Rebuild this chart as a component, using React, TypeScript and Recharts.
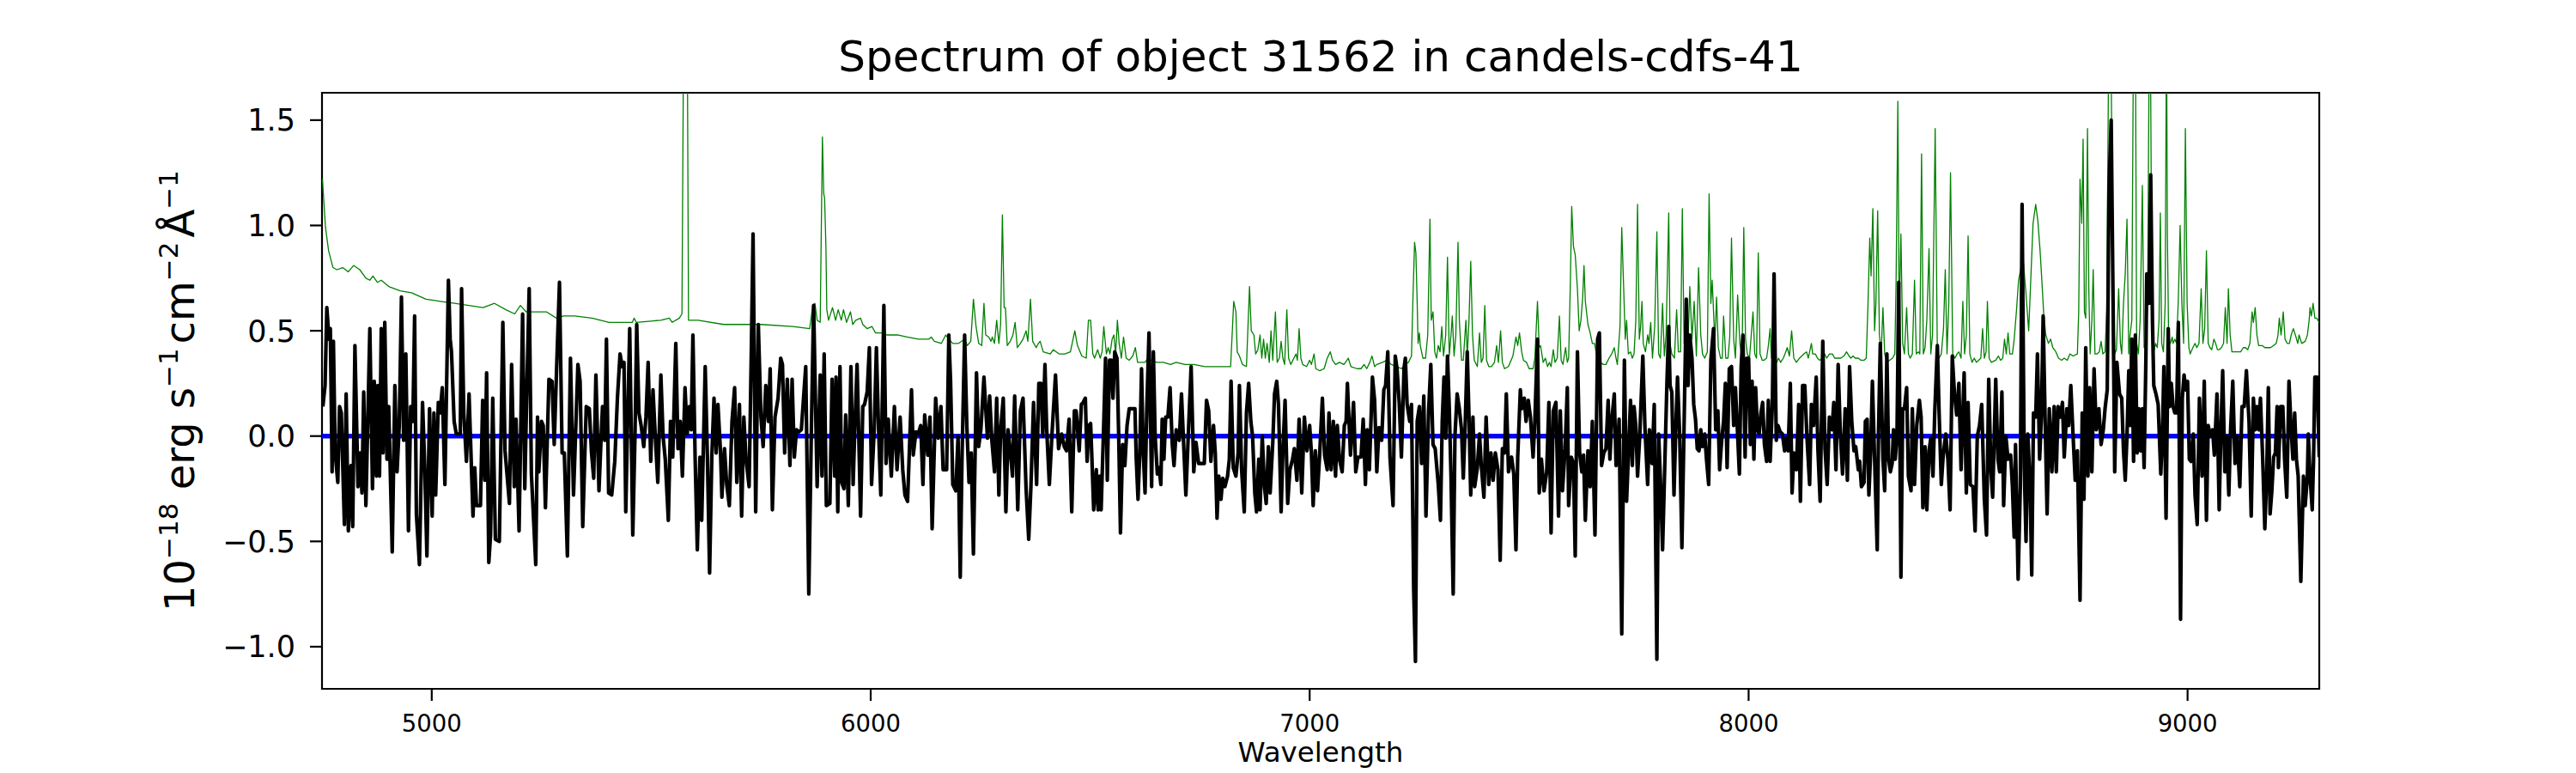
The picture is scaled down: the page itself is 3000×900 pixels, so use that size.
import { LineChart, Line, XAxis, YAxis, ReferenceArea, Label } from "recharts";

// [wavelength (Å), flux]
const sciencePairs: number[][] = [
  [4752, 0.14], [4757, 0.24], [4761, 0.61], [4766, 0.46], [4769, 0.51], [4773, -0.17], [4776, 0.45], [4780, -0.08],
  [4786, -0.22], [4790, 0.14], [4794, 0.11], [4801, -0.42], [4805, 0.2], [4810, -0.45], [4816, -0.14], [4820, -0.43],
  [4825, 0.43], [4832, -0.24], [4837, -0.08], [4841, -0.27], [4845, 0.21], [4850, -0.33], [4859, 0.51], [4865, -0.25],
  [4869, 0.26], [4874, -0.19], [4877, 0.24], [4881, -0.19], [4885, 0.51], [4889, -0.08], [4893, 0.54], [4898, -0.11],
  [4902, 0.14], [4910, -0.55], [4916, 0.24], [4921, -0.17], [4926, 0.05], [4931, 0.66], [4936, -0.02], [4941, 0.39],
  [4947, -0.45], [4952, 0.14], [4957, 0.07], [4961, 0.57], [4965, -0.37], [4972, -0.61], [4979, 0.16], [4984, -0.14],
  [4989, -0.57], [4995, 0.13], [5001, -0.38], [5005, 0.11], [5009, -0.28], [5015, 0.16], [5019, 0.11], [5024, 0.23],
  [5030, -0.23], [5038, 0.74], [5042, 0.46], [5045, 0.4], [5051, 0.07], [5056, 0.01], [5065, 0.01], [5068, 0.7],
  [5073, 0.11], [5079, -0.12], [5085, 0.2], [5094, -0.38], [5098, -0.15], [5102, -0.33], [5111, -0.33], [5116, 0.17],
  [5121, -0.21], [5125, 0.3], [5130, -0.6], [5134, -0.47], [5139, 0.18], [5145, -0.49], [5154, -0.5], [5162, 0.54],
  [5167, -0.07], [5177, -0.32], [5182, 0.34], [5188, -0.24], [5192, 0.08], [5199, -0.45], [5207, 0.58], [5212, -0.25],
  [5216, 0.16], [5222, 0.7], [5227, -0.18], [5237, -0.61], [5241, 0.09], [5244, -0.17], [5250, 0.07], [5254, 0.05],
  [5259, -0.34], [5267, 0.27], [5274, 0.26], [5279, -0.04], [5284, 0.29], [5291, 0.73], [5297, -0.08], [5302, -0.08],
  [5309, -0.57], [5316, 0.37], [5323, -0.28],
  [5333, 0.34], [5338, 0.26], [5344, -0.43], [5352, 0.14], [5359, 0.13], [5364, -0.08], [5369, -0.2], [5374, 0.29],
  [5381, -0.26], [5386, 0.0], [5389, 0.14], [5394, -0.02], [5398, 0.46], [5403, -0.27], [5410, -0.28], [5417, -0.12],
  [5423, 0.18], [5429, 0.39], [5434, 0.33], [5438, 0.35], [5442, -0.36], [5446, 0.05], [5451, 0.51], [5458, -0.47],
  [5463, 0.0], [5467, 0.53], [5472, 0.11], [5477, 0.05], [5483, -0.05], [5488, 0.09], [5493, 0.35], [5499, -0.12],
  [5504, 0.22], [5509, 0.01], [5515, -0.22], [5522, 0.29], [5527, 0.0], [5532, -0.11], [5539, -0.4], [5544, 0.07],
  [5549, -0.1], [5556, 0.44], [5561, -0.06], [5566, 0.07], [5571, -0.19], [5577, 0.23], [5582, 0.01], [5587, 0.14],
  [5591, 0.03], [5595, 0.48], [5600, -0.1], [5605, -0.54], [5611, -0.1], [5615, -0.4], [5623, 0.33], [5628, -0.1],
  [5633, -0.65], [5638, -0.1], [5643, 0.18], [5648, -0.08], [5652, 0.15], [5658, -0.08], [5661, -0.29], [5667, -0.06],
  [5672, -0.23], [5678, -0.33], [5684, 0.07], [5690, 0.23], [5695, -0.22], [5701, 0.15], [5706, -0.38], [5711, 0.09],
  [5716, -0.11], [5723, -0.24], [5728, 0.4], [5732, 0.96], [5738, -0.36], [5744, 0.53], [5750, 0.09], [5755, -0.05],
  [5761, 0.24], [5767, 0.07], [5771, 0.32], [5776, -0.35], [5782, 0.09], [5789, 0.18], [5795, 0.37], [5799, 0.34],
  [5804, -0.08], [5810, 0.27], [5816, -0.14], [5821, 0.27], [5826, -0.1], [5831, 0.03], [5836, 0.02], [5842, 0.03],
  [5847, 0.18], [5852, 0.33], [5859, -0.75], [5865, 0.05], [5870, 0.62], [5878, -0.24], [5885, 0.29], [5889, -0.19],
  [5894, 0.39], [5899, -0.33], [5907, -0.32], [5912, 0.27],
  [5918, -0.19], [5921, 0.28], [5925, -0.36], [5930, 0.33], [5934, -0.22], [5939, -0.25], [5943, 0.1], [5949, -0.33],
  [5955, 0.33], [5960, -0.23], [5964, 0.05], [5969, 0.34], [5977, -0.38], [5982, 0.14], [5986, 0.15], [5992, 0.21],
  [5997, 0.42], [6002, -0.23], [6008, 0.03], [6013, 0.42], [6018, 0.03], [6023, -0.28], [6030, 0.62], [6035, -0.13],
  [6040, 0.08], [6047, -0.19], [6054, 0.14], [6060, -0.16], [6067, 0.09], [6073, -0.16], [6078, -0.28], [6084, -0.31],
  [6093, 0.22], [6097, -0.09], [6103, 0.02], [6108, 0.01], [6114, 0.05], [6119, -0.23], [6123, 0.1], [6130, -0.09],
  [6135, 0.09], [6140, -0.44], [6148, 0.18], [6154, -0.01], [6160, 0.14], [6165, -0.16], [6173, -0.16], [6178, 0.48],
  [6182, 0.26], [6187, -0.23], [6194, -0.26], [6199, 0.0], [6204, -0.67], [6208, -0.11], [6214, 0.48], [6219, 0.05],
  [6224, -0.22], [6229, -0.08], [6234, -0.56], [6241, 0.3], [6246, -0.05], [6251, 0.03], [6258, 0.28], [6266, -0.01],
  [6271, 0.19], [6276, -0.02], [6282, -0.17], [6287, 0.18], [6292, -0.28], [6296, 0.03], [6302, 0.18], [6308, -0.36],
  [6313, 0.03], [6318, -0.07], [6323, -0.19], [6328, 0.19], [6335, -0.35], [6341, 0.12], [6347, 0.18], [6354, -0.25],
  [6360, -0.49], [6365, -0.24], [6371, 0.16], [6378, -0.23], [6383, 0.25], [6388, 0.25], [6392, 0.0], [6397, 0.34],
  [6401, 0.03], [6407, -0.23], [6413, 0.01], [6421, 0.29], [6428, -0.06], [6435, 0.01], [6441, -0.05], [6446, -0.07],
  [6452, 0.08], [6458, -0.36], [6464, 0.12], [6468, 0.12], [6475, -0.07], [6480, 0.15], [6484, 0.16], [6489, 0.18],
  [6493, -0.12], [6497, 0.05],
  [6501, 0.06], [6504, -0.11], [6508, -0.35], [6514, -0.16], [6518, -0.35], [6522, -0.19], [6525, -0.35], [6531, 0.07],
  [6535, 0.37], [6539, -0.21], [6544, 0.36], [6548, 0.36], [6552, 0.18], [6556, 0.4], [6561, 0.37], [6565, 0.0],
  [6569, -0.46], [6574, -0.04], [6579, -0.14], [6584, 0.05], [6589, 0.13], [6596, 0.13], [6602, 0.13], [6605, -0.11],
  [6609, -0.3], [6613, -0.08], [6617, 0.32], [6621, -0.08], [6625, -0.27], [6629, 0.13], [6634, 0.49], [6640, -0.24],
  [6644, 0.4], [6648, 0.0], [6653, -0.18], [6657, -0.15], [6661, -0.23], [6664, 0.08], [6668, -0.11], [6672, 0.09],
  [6677, 0.09], [6682, 0.23], [6687, -0.04], [6691, -0.14], [6696, 0.03], [6703, -0.02], [6708, 0.2], [6713, -0.04],
  [6718, -0.28], [6724, 0.03], [6730, 0.33], [6736, -0.17], [6741, -0.03], [6747, -0.13], [6755, -0.13], [6760, -0.13],
  [6765, 0.17], [6770, 0.12], [6775, -0.12], [6781, 0.05], [6785, -0.08], [6789, -0.39], [6793, -0.19], [6798, -0.3],
  [6802, -0.2], [6807, -0.24], [6813, -0.19], [6817, -0.11], [6821, 0.26], [6826, -0.15], [6832, -0.19], [6837, -0.08],
  [6840, 0.24], [6845, -0.16], [6851, -0.36], [6856, 0.11], [6861, 0.25], [6866, 0.07], [6870, 0.0], [6875, -0.27],
  [6879, -0.36], [6884, -0.11], [6887, -0.35], [6892, 0.0], [6897, -0.24], [6901, -0.32], [6906, -0.05], [6910, -0.27],
  [6916, -0.03], [6920, 0.2], [6925, 0.26], [6929, 0.15], [6935, -0.36], [6939, -0.07], [6944, 0.17], [6950, -0.32],
  [6955, -0.16], [6961, -0.11], [6965, -0.06], [6971, -0.21], [6976, 0.08], [6982, -0.27], [6988, 0.09], [6994, -0.07],
  [7000, 0.05], [7004, -0.08], [7008, -0.33], [7013, -0.07], [7018, -0.26], [7023, -0.08], [7029, 0.18], [7034, -0.09],
  [7040, -0.16], [7044, 0.11], [7049, -0.16], [7054, 0.07], [7059, -0.19], [7063, 0.05], [7068, -0.11], [7074, -0.17],
  [7079, 0.05], [7083, 0.07], [7086, 0.25],
  [7093, -0.09], [7100, 0.16], [7105, -0.17], [7110, -0.1], [7117, -0.1], [7122, 0.08], [7127, -0.23], [7131, 0.03],
  [7136, -0.16], [7143, 0.28], [7148, 0.17], [7153, -0.17], [7158, 0.04], [7164, -0.02], [7169, 0.22], [7173, 0.24],
  [7178, 0.4], [7183, -0.1], [7190, -0.33], [7195, 0.38], [7199, 0.32], [7204, 0.16], [7209, -0.1], [7215, 0.32],
  [7218, 0.37], [7222, 0.15], [7228, 0.07], [7232, 0.15], [7237, -0.73], [7241, -1.07], [7245, 0.07], [7250, 0.14],
  [7255, -0.13], [7260, 0.19], [7265, -0.38], [7271, 0.12], [7276, 0.34], [7281, -0.04], [7286, -0.06], [7293, -0.23],
  [7298, -0.4], [7302, 0.07], [7306, 0.28], [7310, -0.01], [7314, 0.38], [7318, 0.14], [7322, -0.19], [7327, -0.75],
  [7331, 0.0], [7336, 0.2], [7341, 0.13], [7346, 0.03], [7350, -0.2], [7354, 0.03], [7359, 0.4], [7363, 0.09],
  [7367, -0.28], [7372, 0.09], [7376, -0.24], [7382, -0.15], [7387, 0.01], [7391, -0.14], [7397, -0.29], [7402, 0.09],
  [7408, -0.23], [7413, -0.08], [7418, -0.21], [7423, -0.08], [7429, -0.16], [7434, -0.59], [7439, -0.06], [7444, -0.08],
  [7448, 0.2], [7453, -0.17], [7460, -0.1], [7465, -0.18], [7470, -0.54], [7474, -0.1], [7480, 0.22], [7483, 0.13],
  [7489, 0.18], [7493, 0.07], [7498, 0.17], [7503, 0.09], [7509, -0.1], [7513, 0.07], [7519, 0.46], [7523, -0.27],
  [7528, -0.11], [7534, -0.26], [7540, -0.17], [7545, 0.16], [7550, -0.46], [7555, 0.12], [7561, 0.16], [7567, -0.38],
  [7571, 0.12], [7576, -0.26], [7582, -0.06], [7587, 0.23], [7590, -0.33], [7596, -0.1], [7601, -0.13], [7605, -0.57],
  [7610, 0.4], [7615, -0.08], [7620, -0.17], [7624, -0.09], [7628, -0.4], [7634, -0.07], [7639, -0.24], [7644, 0.07],
  [7650, -0.47], [7656, 0.46], [7660, 0.49], [7665, -0.14], [7670, -0.08],
  [7675, -0.06], [7680, 0.17], [7684, -0.11], [7688, 0.07], [7694, 0.2], [7698, -0.14], [7701, -0.08], [7705, 0.08],
  [7711, -0.94], [7717, 0.36], [7722, -0.31], [7726, -0.1], [7731, 0.17], [7735, -0.14], [7739, 0.14], [7743, 0.05],
  [7747, -0.19], [7752, 0.0], [7759, 0.38], [7764, 0.03], [7770, -0.23], [7774, 0.03], [7780, -0.13], [7785, 0.15],
  [7791, -1.06], [7795, 0.01], [7799, -0.2], [7804, -0.54], [7810, -0.06], [7814, 0.26], [7818, 0.52], [7821, 0.24],
  [7825, 0.21], [7830, -0.28], [7834, 0.03], [7838, 0.28], [7843, 0.0], [7848, -0.53], [7853, 0.05], [7858, 0.65],
  [7862, 0.24], [7866, 0.48], [7871, 0.37], [7875, 0.15], [7879, 0.08], [7883, -0.06], [7887, -0.07], [7891, 0.03],
  [7895, -0.05], [7900, 0.01], [7904, -0.11], [7909, -0.23], [7914, 0.36], [7920, 0.51], [7925, 0.03], [7930, 0.12],
  [7934, -0.16], [7939, -0.01], [7943, 0.07], [7947, 0.25], [7951, -0.15], [7956, 0.32], [7961, 0.33], [7966, 0.05],
  [7970, 0.23], [7974, 0.05], [7979, -0.18], [7983, 0.33], [7987, 0.48], [7992, -0.1], [7996, 0.37], [8000, 0.37],
  [8004, -0.04], [8008, 0.26], [8012, -0.11], [8016, 0.23], [8020, 0.03], [8024, 0.01], [8028, 0.11], [8032, 0.16],
  [8036, -0.04], [8041, -0.12], [8045, 0.17], [8049, -0.12], [8054, 0.14], [8058, 0.77], [8063, -0.02], [8067, 0.05],
  [8072, 0.02], [8077, 0.01], [8082, -0.07], [8086, -0.01], [8090, -0.07], [8095, 0.25], [8099, -0.27], [8103, -0.08],
  [8109, -0.16], [8114, 0.15], [8118, -0.31], [8123, 0.24], [8128, 0.24], [8133, -0.01], [8139, -0.23], [8143, 0.15],
  [8148, 0.05], [8154, 0.28], [8158, -0.07], [8163, -0.31], [8169, 0.45], [8174, -0.06], [8179, -0.23], [8184, 0.09],
  [8190, 0.03], [8194, 0.16], [8199, -0.16], [8204, 0.34], [8209, 0.01], [8214, -0.18], [8220, 0.13], [8225, -0.21],
  [8230, 0.33], [8235, 0.07], [8240, -0.07], [8244, -0.05], [8250, -0.16], [8253, -0.12], [8257, -0.24], [8263, -0.22],
  [8266, 0.07], [8270, 0.08], [8274, -0.28], [8278, -0.08], [8282, 0.26], [8287, -0.11], [8293, -0.54], [8296, 0.03],
  [8300, 0.44], [8306, -0.11], [8310, -0.26], [8315, 0.39], [8319, -0.11], [8323, -0.17], [8327, -0.13], [8330, 0.03],
  [8334, -0.11], [8338, 0.0], [8342, 0.73], [8347, -0.67], [8351, 0.13], [8355, 0.13], [8360, 0.23], [8364, -0.19],
  [8370, -0.26], [8373, 0.13], [8378, -0.23], [8383, 0.05], [8389, 0.17], [8393, 0.09], [8397, -0.34], [8402, -0.05],
  [8406, -0.35], [8411, -0.07], [8415, -0.01], [8420, -0.19], [8424, 0.11], [8430, 0.43], [8434, 0.11], [8439, -0.23],
  [8443, -0.1], [8449, 0.01], [8454, -0.11], [8459, -0.35], [8464, 0.38], [8469, 0.2], [8474, 0.1], [8479, 0.25],
  [8484, -0.16], [8491, 0.3], [8496, -0.27], [8500, 0.16], [8505, -0.23], [8511, -0.24], [8516, -0.45], [8521, 0.0],
  [8526, 0.05], [8531, 0.15], [8537, -0.3], [8542, -0.47], [8547, 0.27], [8552, -0.16], [8556, -0.29], [8563, 0.27],
  [8568, -0.11], [8572, -0.17], [8577, 0.21], [8581, -0.33], [8586, 0.0], [8591, -0.11], [8597, -0.09], [8601, -0.24],
  [8605, -0.48], [8608, -0.04], [8614, -0.68], [8619, -0.24], [8623, 1.1], [8628, -0.15], [8632, -0.5], [8636, 0.01],
  [8641, -0.22], [8645, -0.66], [8649, 0.11], [8654, 0.09], [8658, 0.39], [8663, -0.11], [8667, 0.09], [8671, 0.57],
  [8675, 0.13], [8680, -0.37], [8685, 0.13], [8691, -0.17], [8696, 0.14], [8701, -0.17], [8705, 0.14], [8710, 0.09],
  [8715, 0.16], [8719, -0.1], [8725, 0.13], [8729, 0.05], [8734, 0.24], [8739, 0.01], [8744, -0.21], [8749, -0.07],
  [8755, -0.78], [8760, 0.11], [8764, -0.3], [8768, 0.42], [8773, -0.19], [8777, 0.23], [8782, -0.17], [8787, 0.32],
  [8792, 0.03], [8798, 0.13], [8803, -0.04], [8808, 0.03], [8812, 0.13], [8817, 0.22], [8821, 1.18], [8826, 1.5],
  [8830, 0.7], [8834, -0.17], [8839, 0.35], [8845, 0.2], [8850, 0.18],
  [8854, -0.07], [8858, -0.21], [8862, 0.0], [8866, 0.31], [8869, 0.05], [8873, 0.46], [8877, -0.12], [8881, 0.48],
  [8885, -0.08], [8889, 0.13], [8893, -0.07], [8897, 0.13], [8901, -0.15], [8905, 0.36], [8907, 0.77], [8912, 0.63],
  [8916, 1.24], [8920, 0.55], [8923, 0.24], [8928, 0.2], [8933, 0.15], [8939, -0.18], [8943, 0.03], [8946, 0.33],
  [8951, -0.39], [8956, 0.51], [8959, 0.14], [8963, 0.25], [8967, 0.14], [8971, 0.11], [8975, 0.11], [8979, 0.54],
  [8984, -0.87], [8988, 0.18], [8992, 0.29], [8996, 0.22], [9000, 0.26], [9004, -0.11], [9008, -0.12], [9013, 0.01],
  [9017, -0.28], [9022, -0.42], [9027, 0.18], [9033, -0.19], [9038, 0.26], [9043, -0.4], [9047, 0.05], [9052, 0.0],
  [9057, 0.03], [9061, -0.09], [9067, 0.2], [9072, -0.35], [9076, 0.03], [9080, 0.31], [9085, -0.17], [9089, 0.0],
  [9094, -0.28], [9098, 0.03], [9103, 0.26], [9108, -0.13], [9113, 0.0], [9119, -0.24], [9124, 0.14], [9129, 0.14],
  [9134, 0.31], [9140, 0.07], [9145, -0.38], [9150, 0.18], [9154, 0.03], [9158, 0.14], [9162, 0.03], [9166, 0.18],
  [9171, -0.1], [9176, -0.44], [9180, -0.21], [9184, 0.23], [9188, -0.37], [9192, -0.26], [9196, -0.1], [9200, -0.08],
  [9204, 0.14], [9207, -0.15], [9212, 0.14], [9217, 0.14], [9221, -0.11], [9226, -0.29], [9231, 0.26], [9236, 0.03],
  [9240, -0.11], [9244, 0.11], [9248, -0.11], [9252, -0.19], [9258, -0.69], [9264, -0.19], [9268, -0.33], [9273, -0.19],
  [9275, 0.01], [9279, -0.19], [9284, -0.35], [9287, -0.11], [9290, 0.28], [9295, 0.28], [9300, -0.1],
];

// noise / sky spectrum (green)
const skyPairs: number[][] = [
  [4751, 1.22], [4758, 0.99], [4765, 0.88], [4775, 0.8], [4784, 0.79], [4797, 0.8], [4810, 0.78], [4822, 0.81],
  [4836, 0.79], [4850, 0.75], [4859, 0.74], [4866, 0.76], [4876, 0.73], [4885, 0.74], [4902, 0.71], [4928, 0.69],
  [4954, 0.68], [4987, 0.65], [5019, 0.64], [5052, 0.63], [5084, 0.62], [5117, 0.61], [5143, 0.63], [5169, 0.6],
  [5189, 0.58], [5202, 0.62], [5215, 0.59], [5241, 0.59], [5261, 0.59], [5284, 0.56], [5300, 0.57],
  [5326, 0.57], [5365, 0.56], [5404, 0.54], [5457, 0.54], [5461, 0.56], [5466, 0.54], [5522, 0.55], [5541, 0.56],
  [5548, 0.54], [5564, 0.56], [5570, 0.58], [5574, 2.0], [5582, 2.0], [5585, 0.55], [5607, 0.55], [5665, 0.53],
  [5750, 0.53], [5822, 0.52], [5861, 0.51], [5868, 0.62], [5873, 0.63], [5878, 0.55], [5885, 0.54], [5887, 0.9],
  [5890, 1.42], [5893, 1.15], [5895, 1.13], [5898, 0.9], [5900, 0.6], [5904, 0.55],
  [5913, 0.61], [5920, 0.55], [5926, 0.6], [5933, 0.55], [5938, 0.6], [5945, 0.54], [5954, 0.59], [5959, 0.53],
  [5966, 0.55], [5977, 0.56], [5982, 0.53], [5992, 0.51], [6003, 0.52], [6011, 0.49], [6028, 0.49], [6037, 0.48],
  [6063, 0.48], [6083, 0.47], [6109, 0.46], [6132, 0.46], [6138, 0.47], [6145, 0.45], [6161, 0.44], [6171, 0.48],
  [6178, 0.46], [6187, 0.44], [6200, 0.44], [6214, 0.46], [6220, 0.43], [6228, 0.45], [6234, 0.65], [6240, 0.52],
  [6246, 0.44], [6253, 0.43], [6258, 0.63], [6262, 0.48], [6269, 0.47], [6274, 0.45], [6277, 0.47], [6282, 0.44],
  [6287, 0.55], [6292, 0.44], [6296, 0.53], [6300, 1.05], [6304, 0.61], [6307, 0.61], [6311, 0.43], [6318, 0.45],
  [6324, 0.48], [6329, 0.54], [6334, 0.42], [6341, 0.44], [6347, 0.46], [6354, 0.5], [6358, 0.45], [6364, 0.65],
  [6369, 0.45], [6377, 0.42], [6382, 0.44], [6386, 0.45], [6393, 0.4], [6409, 0.39], [6416, 0.41], [6429, 0.39],
  [6442, 0.39], [6455, 0.4], [6465, 0.5], [6471, 0.43], [6481, 0.38], [6491, 0.37], [6496, 0.55],
  [6501, 0.55], [6506, 0.39], [6510, 0.37], [6517, 0.41], [6523, 0.37], [6527, 0.4], [6531, 0.52], [6537, 0.39],
  [6541, 0.42], [6545, 0.39], [6550, 0.46], [6554, 0.48], [6558, 0.39], [6562, 0.55], [6566, 0.44], [6571, 0.37],
  [6576, 0.47], [6582, 0.37], [6589, 0.36], [6597, 0.38], [6603, 0.42], [6608, 0.35], [6625, 0.35], [6631, 0.37],
  [6638, 0.36], [6651, 0.35], [6667, 0.35], [6683, 0.34], [6696, 0.35], [6716, 0.34], [6736, 0.34], [6762, 0.33],
  [6788, 0.33], [6820, 0.33], [6827, 0.64], [6832, 0.59], [6835, 0.4], [6840, 0.38], [6847, 0.34], [6856, 0.33],
  [6863, 0.71], [6867, 0.5], [6873, 0.48], [6877, 0.39], [6882, 0.41], [6887, 0.48], [6891, 0.37], [6895, 0.46],
  [6899, 0.37], [6903, 0.44], [6908, 0.35], [6912, 0.5], [6916, 0.36], [6922, 0.59], [6926, 0.35], [6931, 0.37],
  [6935, 0.45], [6939, 0.37], [6943, 0.34], [6948, 0.6], [6952, 0.37], [6957, 0.34], [6964, 0.37], [6969, 0.39],
  [6972, 0.36], [6976, 0.51], [6980, 0.37], [6984, 0.34], [6993, 0.33], [7000, 0.36], [7004, 0.34], [7010, 0.39],
  [7014, 0.32], [7023, 0.31], [7033, 0.32], [7040, 0.37], [7047, 0.4], [7052, 0.36], [7059, 0.34], [7068, 0.35],
  [7078, 0.34], [7085, 0.36],
  [7088, 0.37], [7094, 0.33], [7108, 0.32], [7117, 0.32], [7124, 0.34], [7130, 0.32], [7137, 0.35], [7142, 0.38],
  [7148, 0.33], [7153, 0.34], [7166, 0.35], [7176, 0.36], [7186, 0.34], [7199, 0.33], [7209, 0.32], [7218, 0.34],
  [7225, 0.35], [7232, 0.38], [7235, 0.63], [7239, 0.92], [7242, 0.87], [7245, 0.63], [7247, 0.44], [7250, 0.49],
  [7252, 0.43], [7258, 0.37], [7264, 0.37], [7269, 0.48], [7274, 1.03], [7277, 0.55], [7281, 0.59], [7285, 0.4],
  [7289, 0.37], [7293, 0.43], [7297, 0.4], [7301, 0.52], [7305, 0.38], [7310, 0.48], [7314, 0.85], [7318, 0.38],
  [7322, 0.48], [7325, 0.57], [7329, 0.38], [7333, 0.48], [7338, 0.92], [7341, 0.55], [7346, 0.36], [7350, 0.36],
  [7356, 0.55], [7359, 0.38], [7363, 0.55], [7367, 0.83], [7371, 0.48], [7375, 0.36], [7382, 0.33], [7387, 0.49],
  [7391, 0.35], [7395, 0.37], [7399, 0.62], [7403, 0.36], [7408, 0.33], [7414, 0.33], [7421, 0.35], [7426, 0.43],
  [7430, 0.35], [7435, 0.5], [7439, 0.35], [7444, 0.32], [7453, 0.33], [7463, 0.38], [7470, 0.47], [7474, 0.43],
  [7478, 0.49], [7483, 0.4], [7487, 0.36], [7494, 0.35], [7500, 0.32], [7509, 0.32], [7513, 0.37], [7519, 0.64],
  [7523, 0.42], [7526, 0.43], [7532, 0.35], [7537, 0.37], [7542, 0.33], [7546, 0.35], [7550, 0.33], [7555, 0.41],
  [7559, 0.35], [7564, 0.37], [7569, 0.57], [7573, 0.36], [7577, 0.34], [7583, 0.42], [7587, 0.35], [7590, 0.37],
  [7594, 0.74], [7597, 1.09], [7601, 0.9], [7605, 0.86], [7610, 0.7], [7614, 0.5], [7618, 0.55], [7622, 0.66],
  [7625, 0.81], [7628, 0.64], [7634, 0.53], [7639, 0.49], [7644, 0.44], [7649, 0.44], [7654, 0.38], [7662, 0.35],
  [7669, 0.34],
  [7675, 0.34], [7682, 0.37], [7688, 0.39], [7694, 0.42], [7697, 0.38], [7701, 0.34], [7707, 0.52], [7711, 0.99],
  [7716, 0.66], [7719, 0.46], [7722, 0.55], [7726, 0.39], [7731, 0.4], [7735, 0.37], [7739, 0.39], [7743, 0.55],
  [7747, 1.1], [7751, 0.46], [7754, 0.52], [7757, 0.64], [7760, 0.44], [7765, 0.4], [7770, 0.48], [7773, 0.44],
  [7777, 0.54], [7781, 0.37], [7786, 0.52], [7791, 0.97], [7795, 0.39], [7799, 0.37], [7804, 0.63], [7808, 0.38],
  [7812, 0.48], [7818, 1.06], [7821, 0.44], [7825, 0.39], [7831, 0.37], [7836, 0.6], [7840, 0.4], [7845, 0.4],
  [7849, 1.08], [7853, 0.44], [7857, 0.61], [7862, 0.44], [7866, 0.71], [7871, 0.46], [7876, 0.64], [7881, 0.38],
  [7886, 0.8], [7891, 0.48], [7895, 0.39], [7900, 0.37], [7906, 0.4], [7910, 1.15], [7914, 0.63], [7917, 0.74],
  [7921, 0.55], [7923, 0.44], [7927, 0.66], [7931, 0.42], [7936, 0.37], [7940, 0.37], [7943, 0.57], [7948, 0.37],
  [7953, 0.37], [7957, 0.47], [7961, 0.94], [7966, 0.46], [7970, 0.37], [7975, 0.67], [7980, 0.44], [7985, 0.37],
  [7989, 0.99], [7993, 0.46], [7997, 0.39], [8002, 0.37], [8006, 0.48], [8010, 0.59], [8014, 0.39], [8018, 0.37],
  [8022, 0.87], [8026, 0.39], [8031, 0.36], [8035, 0.36], [8041, 0.37], [8045, 0.43], [8049, 0.51], [8052, 0.37],
  [8057, 0.37], [8064, 0.35], [8068, 0.37], [8073, 0.35], [8079, 0.37], [8083, 0.39], [8088, 0.42], [8093, 0.38],
  [8098, 0.5], [8103, 0.37], [8109, 0.35], [8116, 0.37], [8126, 0.39], [8132, 0.4], [8136, 0.37], [8143, 0.44],
  [8146, 0.39], [8152, 0.39], [8157, 0.37], [8162, 0.36], [8168, 0.37], [8173, 0.39], [8178, 0.37], [8184, 0.39],
  [8191, 0.39], [8196, 0.37], [8203, 0.37], [8210, 0.37], [8217, 0.38], [8223, 0.4], [8229, 0.38], [8233, 0.37],
  [8238, 0.38], [8243, 0.37], [8250, 0.37], [8256, 0.36],
  [8263, 0.36], [8268, 0.37], [8272, 0.63], [8276, 0.94], [8279, 0.76], [8283, 1.08], [8287, 0.5], [8290, 0.63],
  [8294, 1.07], [8298, 0.48], [8302, 0.39], [8306, 0.61], [8310, 0.39], [8315, 0.35], [8321, 0.36], [8328, 0.37],
  [8333, 0.39], [8336, 0.74], [8340, 1.59], [8343, 0.55], [8347, 0.96], [8351, 0.44], [8355, 0.39], [8360, 0.61],
  [8364, 0.39], [8368, 0.37], [8373, 0.39], [8378, 0.74], [8382, 0.39], [8387, 0.4], [8390, 0.39], [8394, 1.34],
  [8398, 0.39], [8402, 0.42], [8406, 0.55], [8411, 0.89], [8415, 0.39], [8419, 0.48], [8425, 1.46], [8430, 0.39],
  [8434, 0.37], [8439, 0.39], [8444, 0.51], [8448, 0.79], [8452, 0.39], [8456, 0.63], [8460, 1.25], [8465, 0.39],
  [8470, 0.37], [8475, 0.39], [8479, 0.4], [8484, 0.37], [8488, 0.64], [8492, 0.39], [8496, 0.48], [8500, 0.95],
  [8504, 0.39], [8509, 0.35], [8514, 0.37], [8519, 0.35], [8524, 0.36], [8529, 0.37], [8533, 0.51], [8537, 0.37],
  [8541, 0.4], [8544, 0.64], [8548, 0.37], [8553, 0.35], [8563, 0.36], [8569, 0.38], [8574, 0.36], [8579, 0.37],
  [8583, 0.46], [8587, 0.39], [8591, 0.49], [8595, 0.39], [8601, 0.39], [8605, 0.46], [8610, 0.59], [8615, 0.74],
  [8625, 0.85], [8631, 0.7], [8638, 0.5], [8642, 0.7], [8648, 1.01], [8654, 1.1], [8659, 1.02], [8664, 0.88],
  [8668, 0.74], [8672, 0.59], [8677, 0.48], [8683, 0.44], [8688, 0.46], [8693, 0.42], [8700, 0.4], [8706, 0.37],
  [8713, 0.36], [8719, 0.37], [8726, 0.36], [8732, 0.39], [8739, 0.38], [8749, 0.39], [8752, 0.59], [8755, 1.22],
  [8759, 1.01], [8762, 1.41], [8765, 0.59], [8768, 0.56], [8772, 1.46], [8775, 0.7], [8778, 0.39], [8782, 0.55],
  [8785, 0.79], [8789, 0.39], [8794, 0.39], [8799, 0.4], [8803, 0.45], [8807, 0.39], [8812, 0.4], [8816, 0.6],
  [8819, 1.5], [8821, 2.0], [8825, 2.0], [8829, 0.95], [8834, 0.39], [8838, 0.41], [8843, 0.7], [8847, 0.44],
  [8850, 0.39],
  [8854, 0.63], [8858, 0.77], [8862, 1.03], [8866, 0.39], [8869, 0.48], [8873, 0.55], [8877, 2.0], [8881, 2.0],
  [8884, 0.44], [8888, 0.39], [8892, 0.55], [8897, 1.19], [8901, 0.42], [8905, 0.44], [8909, 0.64], [8913, 2.0],
  [8915, 2.0], [8919, 0.55], [8923, 0.4], [8927, 0.44], [8931, 0.42], [8935, 0.55], [8938, 1.06], [8941, 0.44],
  [8945, 0.4], [8949, 0.63], [8952, 2.0], [8954, 0.96], [8957, 0.44], [8961, 0.44], [8965, 0.47], [8967, 0.44],
  [8971, 0.46], [8975, 0.44], [8979, 0.65], [8983, 1.0], [8987, 0.63], [8991, 0.44], [8995, 1.46], [8999, 0.63],
  [9003, 0.42], [9006, 0.39], [9012, 0.42], [9017, 0.44], [9021, 0.42], [9026, 0.44], [9031, 0.7], [9035, 0.44],
  [9039, 0.51], [9043, 0.88], [9047, 0.44], [9051, 0.42], [9055, 0.41], [9060, 0.46], [9064, 0.44], [9068, 0.41],
  [9072, 0.41], [9077, 0.42], [9082, 0.44], [9086, 0.61], [9090, 0.44], [9093, 0.7], [9097, 0.48], [9101, 0.4],
  [9108, 0.4], [9114, 0.4], [9121, 0.4], [9127, 0.42], [9132, 0.42], [9137, 0.41], [9142, 0.44], [9147, 0.59],
  [9150, 0.54], [9154, 0.61], [9158, 0.48], [9162, 0.43], [9170, 0.43], [9176, 0.42], [9183, 0.42], [9189, 0.42],
  [9196, 0.43], [9202, 0.44], [9206, 0.48], [9209, 0.56], [9213, 0.48], [9218, 0.59], [9222, 0.46], [9227, 0.44],
  [9232, 0.44], [9236, 0.48], [9241, 0.51], [9247, 0.47], [9251, 0.44], [9254, 0.48], [9260, 0.44], [9268, 0.45],
  [9273, 0.48], [9277, 0.55], [9279, 0.61], [9282, 0.57], [9286, 0.63], [9290, 0.56], [9294, 0.56], [9300, 0.54],
];

// model (flat zero)
const modelPairs: number[][] = [[4750, 0], [9300, 0]];

const xDomain = [4750, 9300];
const yDomain = [-1.2, 1.63];
const xTicks = [5000, 6000, 7000, 8000, 9000];
const yTicks = [-1.0, -0.5, 0.0, 0.5, 1.0, 1.5];

const FONT = "DejaVu Sans";

const toRows = (pairs: number[][]) => pairs.map(([w, f]) => ({ w, f }));

const fmtY = (v: number) => (v < 0 ? "\u2212" : "") + Math.abs(v).toFixed(1);

export default function App() {
  const science = toRows(sciencePairs);
  const sky = toRows(skyPairs);
  const model = toRows(modelPairs);
  const sup = { fontSize: 31 };

  return (
    <div style={{ position: "absolute", left: 0, top: 0, width: 3000, height: 900, background: "#fff" }}>
      <LineChart width={3000} height={900} margin={{ top: 108, right: 299, bottom: 0, left: 0 }}>
        <XAxis
          type="number" dataKey="w" domain={xDomain} allowDataOverflow ticks={xTicks} interval={0}
          height={98} tickSize={14} tickMargin={16} axisLine={false}
          tickLine={{ stroke: "#000", strokeWidth: 2.2 }}
          tick={{ fontSize: 27.5, fill: "#000", fontFamily: FONT }}
        >
          <Label
            content={({ viewBox }: any) => (
              <text x={viewBox.x + viewBox.width / 2} y={viewBox.y + 85} textAnchor="middle"
                fontSize={32.5} fontFamily={FONT} fill="#000">Wavelength</text>
            )}
          />
        </XAxis>
        <YAxis
          type="number" domain={yDomain} allowDataOverflow ticks={yTicks} interval={0}
          width={375} tickSize={14} tickMargin={17} axisLine={false}
          tickLine={{ stroke: "#000", strokeWidth: 2.2 }}
          tick={{ fontSize: 35, fill: "#000", fontFamily: FONT }}
          tickFormatter={fmtY}
        />
        <Line data={model} dataKey="f" type="linear" stroke="#0000ff" strokeWidth={5.5}
          dot={false} activeDot={false} isAnimationActive={false} />
        <Line data={sky} dataKey="f" type="linear" stroke="#008000" strokeWidth={1.3}
          dot={false} activeDot={false} isAnimationActive={false} strokeLinejoin="round" />
        <Line data={science} dataKey="f" type="linear" stroke="#000" strokeWidth={4.2}
          dot={false} activeDot={false} isAnimationActive={false} strokeLinejoin="round" />
        <ReferenceArea x1={xDomain[0]} x2={xDomain[1]} y1={yDomain[0]} y2={yDomain[1]}
          fill="none" fillOpacity={0} stroke="#000" strokeWidth={2.2} ifOverflow="visible" />
      </LineChart>
      <svg width={3000} height={900} style={{ position: "absolute", left: 0, top: 0, pointerEvents: "none" }}>
        <text x={1538} y={83} textAnchor="middle" fontSize={50} fontFamily={FONT} fill="#000">
          Spectrum of object 31562 in candels-cdfs-41
        </text>
        <text transform="rotate(-90)" x={-455} y={226} textAnchor="middle" fontSize={48} fontFamily={FONT} fill="#000">
          10<tspan dy={-19} {...sup}>{"\u221218"}</tspan>
          <tspan dy={19}> erg s</tspan>
          <tspan dy={-19} {...sup}>{"\u22121"}</tspan>
          <tspan dy={19} dx={5}>cm</tspan>
          <tspan dy={-19} {...sup}>{"\u22122"}</tspan>
          <tspan dy={19} dx={5}>Å</tspan>
          <tspan dy={-19} {...sup}>{"\u22121"}</tspan>
        </text>
      </svg>
    </div>
  );
}
